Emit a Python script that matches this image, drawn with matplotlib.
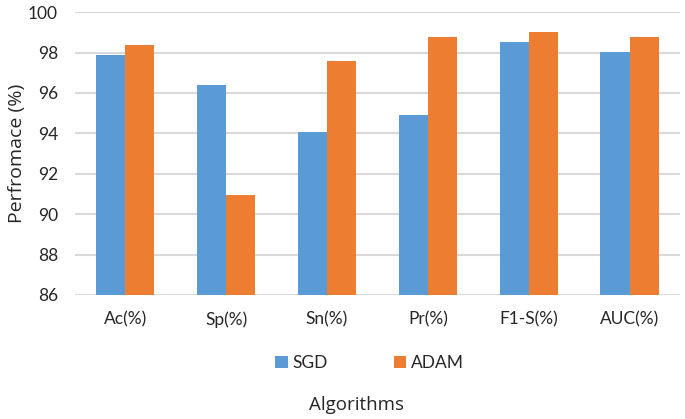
import matplotlib
matplotlib.use("Agg")
import matplotlib.pyplot as plt
import numpy as np

categories = ["Ac(%)", "Sp(%)", "Sn(%)", "Pr(%)", "F1-S(%)", "AUC(%)"]
sgd = [97.88, 96.4, 94.08, 94.9, 98.53, 98.04]
adam = [98.37, 90.97, 97.58, 98.77, 99.02, 98.77]
yticks = [86, 88, 90, 92, 94, 96, 98, 100]

plt.rcParams['font.family'] = ['Lato', 'DejaVu Sans']
fig = plt.figure(figsize=(6.85, 4.19), dpi=100)
ax = fig.add_axes([0.109, 0.296, 0.884, 0.675])

x = np.arange(len(categories))
w = 0.29
ax.bar(x - w/2, sgd, w, color="#5B9BD5", label="SGD", zorder=3)
ax.bar(x + w/2, adam, w, color="#ED7D31", label="ADAM", zorder=3)

ax.set_ylim(86, 100)
ax.set_xlim(-0.5, len(categories) - 0.5)
ax.set_yticks(yticks)
ax.set_xticks(x)
ax.set_xticklabels(categories, fontsize=12.5)
ax.tick_params(axis='y', labelsize=12.5, length=0, pad=12, colors="#262626")
ax.tick_params(axis='x', length=0, pad=12, colors="#262626")
ax.yaxis.grid(True, color="#d9d9d9", linewidth=1.5, zorder=0)
for s in ax.spines.values():
    s.set_visible(False)

ax.set_ylabel("Perfromace (%)", fontsize=14, family=['Open Sans', 'DejaVu Sans'], color="#262626")
ax.yaxis.set_label_coords(-0.08, 0.5)
fig.text(0.52, 0.033, "Algorithms", ha="center", va="center", fontsize=13.5,
         family=['Open Sans', 'DejaVu Sans'], color="#262626")

leg = fig.legend(loc="center", bbox_to_anchor=(0.54, 0.134), ncol=2, frameon=False,
                 fontsize=12.5, handlelength=0.7, handleheight=0.7, handletextpad=0.3,
                 columnspacing=3.8)
for t in leg.get_texts():
    t.set_color("#262626")

fig.savefig("out.png", dpi=100)
